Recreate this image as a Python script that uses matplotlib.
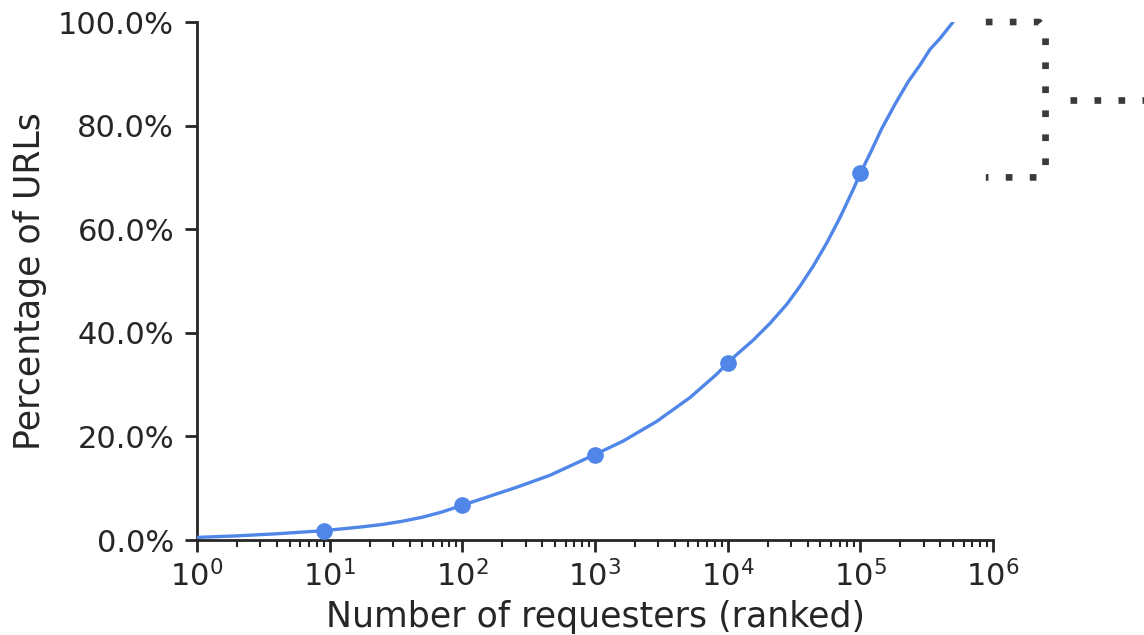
import matplotlib
matplotlib.use("Agg")
import matplotlib.pyplot as plt
from matplotlib.ticker import PercentFormatter, LogLocator
from matplotlib.lines import Line2D
import matplotlib.transforms as mtrans

# Curve data (rank of requesters, cumulative % of URLs)
curve_x = [1, 2, 4, 9, 17, 25, 35, 50, 70, 100, 258, 458, 1000, 1630, 2920, 5200, 8260,
           10000, 11700, 15600, 20800, 27900, 35100, 44200, 55700, 70100,
           88500, 100000, 118300, 144900, 184200, 229800, 281800, 334800,
           398000, 500000]
curve_y = [0.5, 0.8, 1.2, 1.8, 2.5, 3.0, 3.6, 4.4, 5.4, 6.7, 10.2, 12.5, 16.5, 19.1, 22.9, 27.5, 32.0,
           34.2, 35.8, 38.6, 41.8, 45.5, 49.0, 52.9, 57.3, 62.2,
           67.7, 70.8, 74.6, 79.4, 84.3, 88.5, 91.7, 94.7,
           96.8, 100.0]

# Highlighted points
mark_x = [9, 100, 1000, 10000, 100000]
mark_y = [1.8, 6.7, 16.5, 34.2, 70.8]

# Bracket (data y range)
bracket_lo, bracket_hi = 70.0, 100.0

x_label = "Number of requesters (ranked)"
y_label = "Percentage of URLs"
y_ticks = [0, 20, 40, 60, 80, 100]

blue = "#4f86e8"
dark = "#262626"

W, H = 1144, 635
fig = plt.figure(figsize=(W / 100, H / 100), dpi=100)
ax = fig.add_axes([197 / W, (H - 540) / H, (993 - 197) / W, (540 - 22) / H])

ax.plot(curve_x, curve_y, color=blue, lw=2.4, solid_capstyle="round",
        solid_joinstyle="round", zorder=3)
ax.plot(mark_x, mark_y, "o", color=blue, ms=11, zorder=4)

ax.set_xscale("log")
ax.set_xlim(1, 1e6)
ax.set_ylim(0, 100)
ax.set_yticks(y_ticks)
ax.yaxis.set_major_formatter(PercentFormatter(decimals=1))
ax.xaxis.set_major_locator(LogLocator(base=10, numticks=10))
ax.xaxis.set_minor_locator(LogLocator(base=10, subs=range(2, 10), numticks=100))

for s in ("top", "right"):
    ax.spines[s].set_visible(False)
for s in ("left", "bottom"):
    ax.spines[s].set_linewidth(2.0)
    ax.spines[s].set_color(dark)

ax.tick_params(axis="both", which="major", length=8.5, width=2.0, color=dark,
               labelsize=22, labelcolor=dark)
ax.tick_params(axis="y", which="major", pad=8)
ax.tick_params(axis="x", which="major", pad=6)
ax.tick_params(axis="x", which="minor", length=5, width=1.5, color=dark)
ax.tick_params(axis="y", which="minor", left=False)

ax.set_xlabel(x_label, fontsize=25, color=dark, labelpad=5)
ax.set_ylabel(y_label, fontsize=25, color=dark, labelpad=8)

# Dotted bracket outside the axes (x in axes fraction, y in data)
trans = mtrans.blended_transform_factory(ax.transAxes, ax.transData)
bx0, bx1, bxv = 0.991, 1.058, 1.066
bracket = Line2D([bx0, bx1, bxv, bxv, bx1, bx0],
                 [bracket_hi, bracket_hi, bracket_hi - 1.5, bracket_lo + 1.5, bracket_lo, bracket_lo],
                 transform=trans, color="#3a3a3a", lw=4.8,
                 linestyle=(0, (1, 2.6)), dash_capstyle="butt", clip_on=False)
ax.add_line(bracket)
mid = (bracket_lo + bracket_hi) / 2
stub = Line2D([1.097, 1.3], [mid, mid], transform=trans, color="#3a3a3a", lw=4.8,
              linestyle=(0, (1, 2.6)), dash_capstyle="butt", clip_on=False)
ax.add_line(stub)

fig.savefig("out.png", dpi=100)
